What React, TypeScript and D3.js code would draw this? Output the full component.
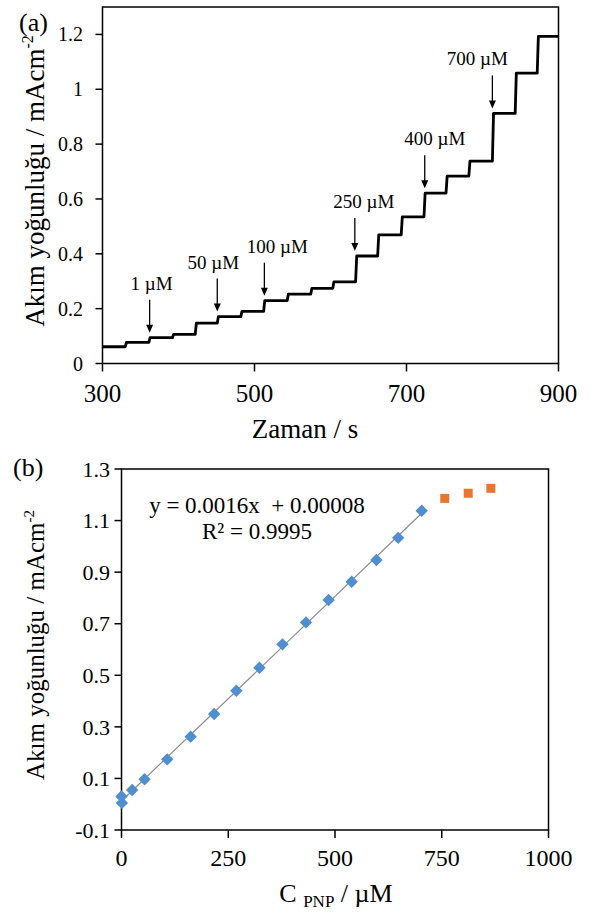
import React from 'react';
import * as d3 from 'd3';

// ---------- Panel (a) data ----------
const stepTimes = [300, 330, 361, 392, 422, 451, 482, 512, 543, 574, 603, 633, 662, 693, 723, 752, 782, 813, 843, 872, 900];
const stepLevels = [0.061, 0.077, 0.094, 0.106, 0.147, 0.171, 0.19, 0.229, 0.253, 0.274, 0.298, 0.392, 0.469, 0.535, 0.621, 0.683, 0.738, 0.912, 1.059, 1.193];
const annoLabels = ['1 µM', '50 µM', '100 µM', '250 µM', '400 µM', '700 µM'];
const annoTimes = [362, 451, 513, 632, 724, 813];
const xTicksA = [300, 500, 700, 900];
const yTicksA = [0, 0.2, 0.4, 0.6, 0.8, 1, 1.2];

// ---------- Panel (b) data ----------
const concBlue = [0, 1, 25, 54, 107, 162, 217, 269, 323, 377, 432, 485, 539, 597, 648, 703];
const currBlue = [0.03, 0.005, 0.055, 0.097, 0.174, 0.262, 0.35, 0.44, 0.529, 0.62, 0.705, 0.792, 0.863, 0.947, 1.033, 1.138];
const concOrange = [757, 812, 865];
const currOrange = [1.186, 1.206, 1.225];
const xTicksB = [0, 250, 500, 750, 1000];
const yTicksB = [-0.1, 0.1, 0.3, 0.5, 0.7, 0.9, 1.1, 1.3];

// layout constants
const annoLabelDx = [2, -4, 13, 9, 10, -15];
const FONT = '"Liberation Serif", "Times New Roman", serif';

export default function App() {
  // panel a scales
  const xA = d3.scaleLinear().domain([300, 900]).range([102.5, 558.5]);
  const yA = d3.scaleLinear().domain([0, 1.3]).range([363.5, 7]);

  const linePts: [number, number][] = [];
  stepLevels.forEach((lv, i) => {
    const t0 = stepTimes[i];
    const t1 = stepTimes[i + 1];
    linePts.push([i === 0 ? t0 : t0 + 1.5, lv]);
    linePts.push([t1, lv]);
  });
  const line = d3.line<[number, number]>().x(d => xA(d[0])).y(d => yA(d[1]));

  const levelAt = (t: number) => {
    let idx = 0;
    for (let i = 0; i < stepLevels.length; i++) if (t >= stepTimes[i]) idx = i;
    return stepLevels[idx];
  };

  // panel b scales
  const xB = d3.scaleLinear().domain([0, 1000]).range([121.5, 548.5]);
  const yB = d3.scaleLinear().domain([-0.1, 1.3]).range([830, 469]);

  // least squares fit for trendline
  const n = concBlue.length;
  const mx = d3.mean(concBlue)!;
  const my = d3.mean(currBlue)!;
  let sxy = 0, sxx = 0;
  for (let i = 0; i < n; i++) {
    sxy += (concBlue[i] - mx) * (currBlue[i] - my);
    sxx += (concBlue[i] - mx) ** 2;
  }
  const slope = sxy / sxx;
  const icpt = my - slope * mx;
  const x0 = d3.min(concBlue)!;
  const x1 = d3.max(concBlue)!;

  const dr = 6.2;
  const diamond = `M0,${-dr} L${dr},0 L0,${dr} L${-dr},0 Z`;

  return (
    <svg width={592} height={918} style={{ position: 'absolute', left: 0, top: 0, background: '#fff' }} fontFamily={FONT}>
      <rect width={592} height={918} fill="#fff" />
      {/* ---------------- Panel (a) ---------------- */}
      <text x={19} y={31} fontSize={26}>(a)</text>
      <rect x={xA(300)} y={yA(1.3)} width={xA(900) - xA(300)} height={yA(0) - yA(1.3)} fill="none" stroke="#000" strokeWidth={1.5} />
      {yTicksA.map(v => (
        <g key={'ya' + v}>
          <line x1={xA(300) - 7} x2={xA(300)} y1={yA(v)} y2={yA(v)} stroke="#000" strokeWidth={1.5} />
          <text x={83} y={yA(v)} dy="0.35em" textAnchor="end" fontSize={20}>{String(v)}</text>
        </g>
      ))}
      {xTicksA.map(v => (
        <g key={'xa' + v}>
          <line x1={xA(v)} x2={xA(v)} y1={yA(0)} y2={yA(0) + 8} stroke="#000" strokeWidth={1.5} />
          <text x={xA(v)} y={402} textAnchor="middle" fontSize={25}>{String(v)}</text>
        </g>
      ))}
      <text x={305} y={438} textAnchor="middle" fontSize={27}>Zaman / s</text>
      <text transform={`translate(44,${181}) rotate(-90)`} textAnchor="middle" fontSize={27}>
        Akım yoğunluğu / mAcm<tspan dy={-11} fontSize={16}>-2</tspan>
      </text>
      <path d={line(linePts) || ''} fill="none" stroke="#000" strokeWidth={2.8} strokeLinejoin="round" />
      {annoTimes.map((t, i) => {
        const ax = xA(t);
        const tip = yA(levelAt(t + 3)) - 5;
        const top = tip - 33;
        return (
          <g key={'an' + i}>
            <line x1={ax} x2={ax} y1={top} y2={tip - 6} stroke="#000" strokeWidth={1.3} />
            <path d={`M${ax - 3.5},${tip - 8} L${ax + 3.5},${tip - 8} L${ax},${tip} Z`} fill="#000" />
            <text x={ax + annoLabelDx[i]} y={top - 10} textAnchor="middle" fontSize={19}>{annoLabels[i]}</text>
          </g>
        );
      })}

      {/* ---------------- Panel (b) ---------------- */}
      <text x={13} y={476} fontSize={26}>(b)</text>
      <rect x={xB(0)} y={yB(1.3)} width={xB(1000) - xB(0)} height={yB(-0.1) - yB(1.3)} fill="none" stroke="#000" strokeWidth={1.5} />
      {yTicksB.map(v => (
        <g key={'yb' + v}>
          <line x1={xB(0) - 7} x2={xB(0)} y1={yB(v)} y2={yB(v)} stroke="#000" strokeWidth={1.5} />
          <text x={110} y={yB(v)} dy="0.35em" textAnchor="end" fontSize={22}>{v.toFixed(1)}</text>
        </g>
      ))}
      {xTicksB.map(v => (
        <g key={'xb' + v}>
          <line x1={xB(v)} x2={xB(v)} y1={yB(-0.1)} y2={yB(-0.1) + 8} stroke="#000" strokeWidth={1.5} />
          <text x={xB(v)} y={866} textAnchor="middle" fontSize={24}>{String(v)}</text>
        </g>
      ))}
      <text x={336} y={902} textAnchor="middle" fontSize={26}>
        C <tspan fontSize={17} dy={5}>PNP</tspan><tspan dy={-5}> / µM</tspan>
      </text>
      <text transform={`translate(44,${645}) rotate(-90)`} textAnchor="middle" fontSize={25}>
        Akım yoğunluğu / mAcm<tspan dy={-10} fontSize={15}>-2</tspan>
      </text>
      <line x1={xB(x0)} y1={yB(slope * x0 + icpt)} x2={xB(x1)} y2={yB(slope * x1 + icpt)} stroke="#8c8c8c" strokeWidth={1.2} />
      {concBlue.map((c, i) => (
        <path key={'bd' + i} d={diamond} transform={`translate(${xB(c)},${yB(currBlue[i])})`} fill="#4f8fd0" />
      ))}
      {concOrange.map((c, i) => (
        <rect key={'os' + i} x={xB(c) - 4.5} y={yB(currOrange[i]) - 4.5} width={9} height={9} fill="#e8772e" />
      ))}
      <text x={257} y={513} textAnchor="middle" fontSize={23} xmlSpace="preserve">y = 0.0016x  + 0.00008</text>
      <text x={257} y={539} textAnchor="middle" fontSize={23}>R² = 0.9995</text>
    </svg>
  );
}
